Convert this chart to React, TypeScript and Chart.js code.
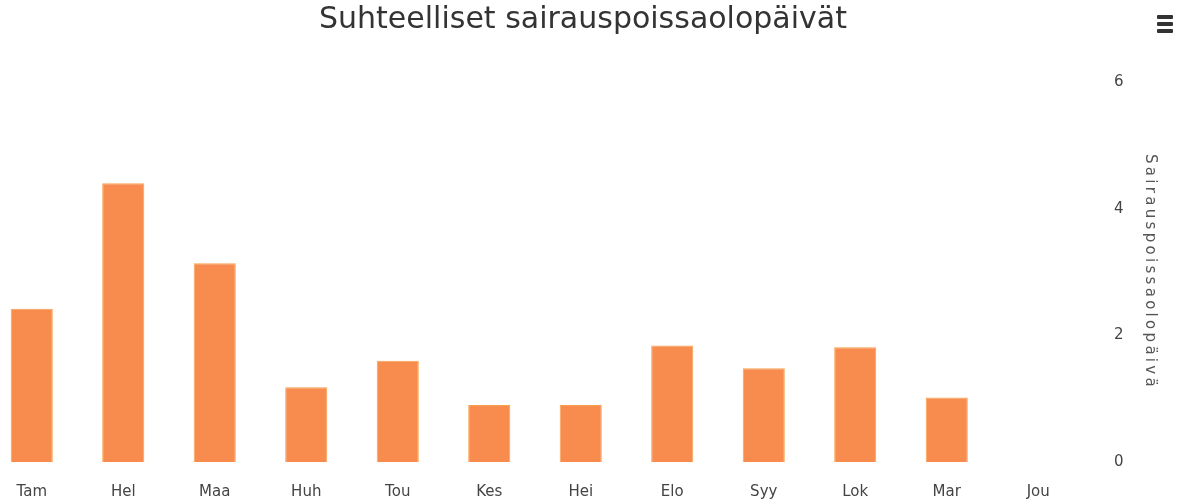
import React, { useEffect, useRef } from "react";
import { Chart, registerables } from "chart.js";

Chart.register(...registerables);

const categories = ["Tam", "Hel", "Maa", "Huh", "Tou", "Kes", "Hei", "Elo", "Syy", "Lok", "Mar", "Jou"];
const values: (number | null)[] = [2.42, 4.4, 3.14, 1.18, 1.6, 0.9, 0.9, 1.84, 1.48, 1.81, 1.02, null];
const yTicks = [0, 2, 4, 6];
const chartTitle = "Suhteelliset sairauspoissaolopäivät";
const yTitle = "Sairauspoissaolopäivä";

const yTitlePlugin = {
  id: "yTitleSpaced",
  afterDraw(chart: any) {
    const { ctx, chartArea } = chart;
    const y = chart.scales.y;
    ctx.save();
    ctx.font = "15px 'DejaVu Sans'";
    ctx.fillStyle = "#555";
    (ctx as any).letterSpacing = "3.3px";
    ctx.textAlign = "center";
    ctx.textBaseline = "middle";
    ctx.translate(y.right - 30, (chartArea.top + chartArea.bottom) / 2);
    ctx.rotate(Math.PI / 2);
    ctx.fillText(yTitle, 0, 0);
    ctx.restore();
  },
};

export default function App() {
  const ref = useRef<HTMLCanvasElement | null>(null);
  useEffect(() => {
    document.body.style.overflow = "hidden";
    const chart = new Chart(ref.current!, {
      type: "bar",
      data: {
        labels: categories,
        datasets: [
          {
            data: values,
            backgroundColor: "#F88C4E",
            borderColor: "#F9A04C",
            borderWidth: 1,
            barPercentage: 0.92,
            categoryPercentage: 0.5,
          },
        ],
      },
      plugins: [yTitlePlugin],
      options: {
        animation: false,
        responsive: false,
        maintainAspectRatio: false,
        layout: { padding: 0 },
        plugins: {
          legend: { display: false },
          tooltip: { enabled: false },
          title: {
            display: true,
            text: chartTitle,
            color: "#333",
            font: { family: "DejaVu Sans", size: 30, weight: "normal" },
            padding: { top: 2, bottom: 44 },
          },
        },
        scales: {
          x: {
            grid: { display: false, drawTicks: false },
            border: { display: false },
            afterFit: (axis: any) => {
              axis.height = 40;
            },
            ticks: {
              color: "#444",
              font: { family: "DejaVu Sans", size: 15 },
              padding: 21,
              maxRotation: 0,
            },
          },
          y: {
            position: "right",
            min: 0,
            max: 6,
            afterBuildTicks: (axis: any) => {
              axis.ticks = yTicks.map((v) => ({ value: v }));
            },
            afterFit: (axis: any) => {
              axis.width = 96;
            },
            grid: { display: false, drawTicks: false },
            border: { display: false },
            ticks: {
              color: "#444",
              font: { family: "DejaVu Sans", size: 15 },
              padding: 30,
            },
          },
        },
      },
    });
    return () => chart.destroy();
  }, []);

  return (
    <div style={{ position: "absolute", left: -14, top: 0, width: 1194, height: 502 }}>
      <canvas ref={ref} width={1194} height={502} style={{ width: 1194, height: 502 }} />
      <div style={{ position: "absolute", left: 1171, top: 15, width: 16 }}>
        {[0, 1, 2].map((i) => (
          <div key={i} style={{ height: 4, background: "#333", marginBottom: 3, borderRadius: 1 }} />
        ))}
      </div>
    </div>
  );
}
